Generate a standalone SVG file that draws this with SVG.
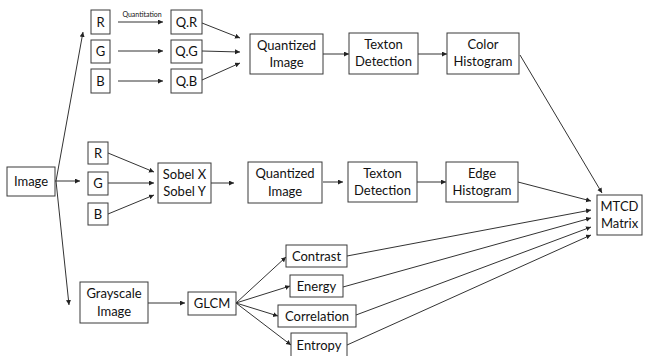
<svg xmlns="http://www.w3.org/2000/svg" width="645" height="356" viewBox="0 0 645 356">
<style>
.n rect{fill:#fff;stroke:#3a3a3a;stroke-width:1}
.n text{font-family:Lato,"Open Sans","Liberation Sans",sans-serif;font-size:13px;fill:#111;text-anchor:middle}
.c line{stroke:#333;stroke-width:1;marker-end:url(#ah)}
.c line.p{marker-end:none}
.lbl{font-family:Lato,"Open Sans","Liberation Sans",sans-serif;font-size:7px;fill:#111;text-anchor:middle}
</style>
<defs>
<marker id="ah" markerUnits="userSpaceOnUse" markerWidth="6" markerHeight="6" refX="5" refY="2.5" orient="auto">
<path d="M0,0 L5,2.5 L0,5 z" fill="#222"/>
</marker>
</defs>
<rect width="645" height="356" fill="#fff"/>
<g class="c" id="connectors">
<line x1="56" y1="181" x2="83" y2="32"/>
<line x1="55" y1="181" x2="80" y2="181"/>
<line x1="56" y1="181" x2="69" y2="305"/>
<line x1="118" y1="22" x2="163" y2="22"/>
<line x1="118" y1="51" x2="163" y2="51"/>
<line x1="118" y1="81" x2="163" y2="81"/>
<line x1="202" y1="23" x2="240" y2="38"/>
<line x1="202" y1="51" x2="240" y2="52"/>
<line x1="202" y1="80" x2="240" y2="63"/>
<line x1="323" y1="54" x2="349" y2="54"/>
<line x1="418" y1="54" x2="447" y2="54"/>
<line x1="520" y1="55" x2="602" y2="193"/>
<line x1="108" y1="153" x2="154" y2="172"/>
<line x1="108" y1="183" x2="154" y2="183"/>
<line x1="108" y1="214" x2="154" y2="195"/>
<line x1="211" y1="183" x2="234" y2="183"/>
<line x1="323" y1="182" x2="343" y2="182"/>
<line x1="417" y1="182" x2="446" y2="182"/>
<line x1="518" y1="182" x2="591" y2="201"/>
<line x1="148" y1="303" x2="185" y2="303"/>
<line x1="236" y1="303" x2="286" y2="257"/>
<line x1="236" y1="303" x2="290" y2="286"/>
<line x1="236" y1="303" x2="278" y2="316"/>
<line x1="236" y1="303" x2="291" y2="345"/>
<line x1="347" y1="256" x2="591" y2="210"/>
<line x1="343" y1="287" x2="591" y2="218"/>
<line x1="356" y1="315" x2="591" y2="227"/>
<line x1="347" y1="345" x2="591" y2="235"/>
<text class="lbl" x="142" y="17">Quantitation</text>
</g>
<g class="n" id="image"><rect x="7" y="167" width="48" height="29"/><text x="31" y="186">Image</text></g>
<g class="n" id="r1"><rect x="91" y="10" width="19" height="24"/><text x="100.5" y="27">R</text></g>
<g class="n" id="g1"><rect x="91" y="40" width="19" height="23"/><text x="100.5" y="56">G</text></g>
<g class="n" id="b1"><rect x="91" y="69" width="19" height="24"/><text x="100.5" y="86">B</text></g>
<g class="n" id="qr"><rect x="171" y="10" width="31" height="24"/><text x="186.5" y="27">Q.R</text></g>
<g class="n" id="qg"><rect x="171" y="40" width="31" height="23"/><text x="186.5" y="56">Q.G</text></g>
<g class="n" id="qb"><rect x="171" y="69" width="31" height="24"/><text x="186.5" y="86">Q.B</text></g>
<g class="n" id="quant1"><rect x="250" y="34" width="73" height="40"/><text x="286.5" y="50">Quantized</text><text x="286.5" y="67">Image</text></g>
<g class="n" id="texton1"><rect x="349" y="33" width="69" height="41"/><text x="383.5" y="49">Texton</text><text x="383.5" y="66">Detection</text></g>
<g class="n" id="color"><rect x="447" y="33" width="72" height="41"/><text x="483" y="49">Color</text><text x="483" y="66">Histogram</text></g>
<g class="n" id="r2"><rect x="88" y="142" width="20" height="22"/><text x="98" y="158">R</text></g>
<g class="n" id="g2"><rect x="88" y="172" width="20" height="23"/><text x="98" y="188">G</text></g>
<g class="n" id="b2"><rect x="88" y="203" width="20" height="22"/><text x="98" y="219">B</text></g>
<g class="n" id="sobel"><rect x="158" y="163" width="53" height="40"/><text x="184.5" y="179">Sobel X</text><text x="184.5" y="196">Sobel Y</text></g>
<g class="n" id="quant2"><rect x="248" y="162" width="74" height="41"/><text x="285" y="178">Quantized</text><text x="285" y="196">Image</text></g>
<g class="n" id="texton2"><rect x="348" y="162" width="69" height="40"/><text x="382.5" y="178">Texton</text><text x="382.5" y="195">Detection</text></g>
<g class="n" id="edge"><rect x="446" y="162" width="72" height="40"/><text x="482" y="178">Edge</text><text x="482" y="195">Histogram</text></g>
<g class="n" id="mtcd"><rect x="597" y="195" width="45" height="40"/><text x="619.5" y="211">MTCD</text><text x="619.5" y="228">Matrix</text></g>
<g class="n" id="gray"><rect x="80" y="282" width="68" height="41"/><text x="114" y="298">Grayscale</text><text x="114" y="316">Image</text></g>
<g class="n" id="glcm"><rect x="188" y="292" width="48" height="23"/><text x="212" y="308">GLCM</text></g>
<g class="n" id="contrast"><rect x="286" y="245" width="61" height="22"/><text x="316.5" y="261">Contrast</text></g>
<g class="n" id="energy"><rect x="290" y="275" width="53" height="22"/><text x="316.5" y="291">Energy</text></g>
<g class="n" id="correlation"><rect x="278" y="305" width="78" height="22"/><text x="317" y="321">Correlation</text></g>
<g class="n" id="entropy"><rect x="291" y="333" width="56" height="25"/><text x="319" y="350">Entropy</text></g>
</svg>
